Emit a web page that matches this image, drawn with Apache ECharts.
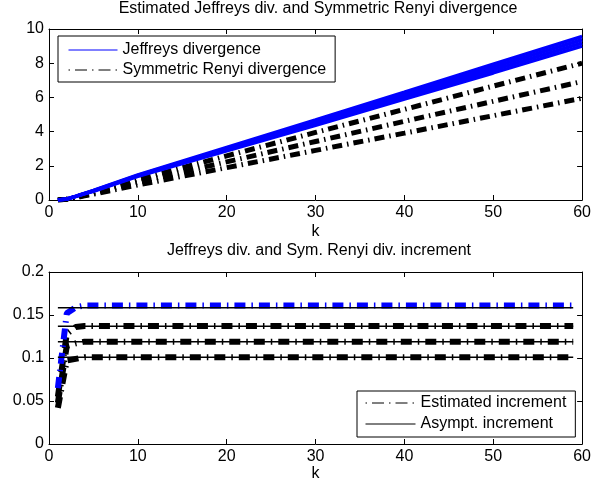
<!DOCTYPE html>
<html><head><meta charset="utf-8">
<script src="https://cdn.jsdelivr.net/npm/echarts@6/dist/echarts.min.js"></script>
<style>html,body{margin:0;padding:0;background:#fff}#c{width:594px;height:491px}</style>
</head><body><div id="c"></div>
<script>
// ---- data ----
const kTop   = [1, 2, 3, 4, 5, 10, 20, 30, 40, 50, 60];
const jeffA  = [0, 0.06, 0.22, 0.39, 0.56, 1.47, 3.08, 4.68, 6.30, 7.95, 9.56];
const jeffB  = [0, 0.06, 0.21, 0.38, 0.54, 1.44, 3.02, 4.57, 6.17, 7.78, 9.37];
const jeffC  = [0, 0.06, 0.21, 0.37, 0.53, 1.41, 2.95, 4.47, 6.03, 7.60, 9.18];
const jeffD  = [0, 0.05, 0.20, 0.36, 0.51, 1.38, 2.88, 4.37, 5.90, 7.43, 9.00];
const renyiA = [0, 0.05, 0.18, 0.32, 0.46, 1.20, 2.58, 3.95, 5.30, 6.66, 8.00];
const renyiB = [0, 0.05, 0.16, 0.28, 0.40, 1.04, 2.23, 3.42, 4.60, 5.77, 6.93];
const renyiC = [0, 0.04, 0.14, 0.24, 0.34, 0.88, 1.89, 2.90, 3.91, 4.93, 5.95];

const kInc  = [1, 2, 3, 4, 59];
const incJ  = [0.065, 0.152, 0.159, 0.161, 0.161];
const incR1 = [0.055, 0.128, 0.136, 0.1372, 0.1372];
const incR2 = [0.048, 0.114, 0.117, 0.119, 0.119];
const incR3 = [0.042, 0.097, 0.099, 0.101, 0.101];
const kAsym = [1, 59];
const asymValues = [0.1585, 0.137, 0.119, 0.101];

const xTicks = [0, 60, 10];          // min, max, interval
const yTopTicks = [0, 10, 2];
const yBotTicks = [0, 0.2, 0.05];

const titleTop = 'Estimated Jeffreys div. and Symmetric Renyi divergence';
const titleBot = 'Jeffreys div. and Sym. Renyi div. increment';
const legTop = ['Jeffreys divergence', 'Symmetric Renyi divergence'];
const legBot = ['Estimated increment', 'Asympt. increment'];

// ---- build ----
const FONT = '"Liberation Sans", Arial, Helvetica, sans-serif';
const FS = 16;
const zip = (xs, ys) => xs.map((x, i) => [x, ys[i]]);

function xAxis(g, pos, labels, nameGap) {
  return {
    type: 'value', gridIndex: g, position: pos,
    min: xTicks[0], max: xTicks[1], interval: xTicks[2],
    axisLine: { show: true, onZero: false, lineStyle: { color: '#000', width: 1 } },
    axisTick: { show: true, inside: true, length: 5, lineStyle: { color: '#000', width: 1 } },
    axisLabel: { show: labels, color: '#000', fontSize: FS, fontFamily: FONT, margin: 5 },
    splitLine: { show: false },
    name: labels ? 'k' : '', nameLocation: 'middle', nameGap: nameGap,
    nameTextStyle: { color: '#000', fontSize: FS, fontFamily: FONT }
  };
}
function yAxis(g, pos, labels, t) {
  return {
    type: 'value', gridIndex: g, position: pos,
    min: t[0], max: t[1], interval: t[2],
    axisLine: { show: true, onZero: false, lineStyle: { color: '#000', width: 1 } },
    axisTick: { show: true, inside: true, length: 5, lineStyle: { color: '#000', width: 1 } },
    axisLabel: { show: labels, color: '#000', fontSize: FS, fontFamily: FONT, margin: 5 },
    splitLine: { show: false }
  };
}
function line(name, xi, yi, xs, ys, color, width, type, z) {
  return {
    type: 'line', name: name, xAxisIndex: xi, yAxisIndex: yi,
    data: zip(xs, ys), symbol: 'none', showSymbol: false, silent: true,
    lineStyle: { color: color, width: width, type: type, cap: 'butt' },
    itemStyle: { color: color }, z: z || 2, animation: false
  };
}

const DD_TOP = [10, 5, 1.5, 5];
const DD_BOT = [11, 6, 1.5, 6];
const DD_LEG = [1.5, 5, 12, 5];
const NOSYM = { opacity: 0, borderWidth: 0 };

const series = [];
[jeffA, jeffB, jeffC, jeffD].forEach(v => series.push(line(legTop[0], 0, 0, kTop, v, '#0000ff', 3.5, 'solid', 3)));
[renyiA, renyiB, renyiC].forEach(v => series.push(line(legTop[1], 0, 0, kTop, v, '#000', 5, DD_TOP, 2)));
[incR1, incR2, incR3].forEach(v => series.push(line(legBot[0], 2, 2, kInc, v, '#000', 6, DD_BOT, 2)));
series.push(line(legBot[0], 2, 2, kInc, incJ, '#0000ff', 6, DD_BOT, 2));
asymValues.forEach(a => series.push(line(legBot[1], 2, 2, kAsym, kAsym.map(() => a), '#000', 1.5, 'solid', 4)));

const option = {
  animation: false,
  backgroundColor: '#fff',
  textStyle: { fontFamily: FONT },
  title: [
    { text: titleTop, left: 318, top: 1, textAlign: 'center', padding: 0,
      textStyle: { color: '#000', fontSize: FS, fontWeight: 'normal', fontFamily: FONT } },
    { text: titleBot, left: 319, top: 243, textAlign: 'center', padding: 0,
      textStyle: { color: '#000', fontSize: FS, fontWeight: 'normal', fontFamily: FONT } }
  ],
  grid: [
    { left: 49, top: 29, width: 534, height: 171, containLabel: false },
    { left: 49, top: 272, width: 534, height: 172, containLabel: false }
  ],
  xAxis: [xAxis(0, 'bottom', true, 24), xAxis(0, 'top', false, 0),
          xAxis(1, 'bottom', true, 18), xAxis(1, 'top', false, 0)],
  yAxis: [yAxis(0, 'left', true, yTopTicks), yAxis(0, 'right', false, yTopTicks),
          yAxis(1, 'left', true, yBotTicks), yAxis(1, 'right', false, yBotTicks)],
  legend: [
    { orient: 'vertical', left: 58, top: 36, itemWidth: 49, itemHeight: 14, itemGap: 4,
      padding: [6, 9, 4, 10], borderColor: '#000', borderWidth: 1, backgroundColor: '#fff',
      selectedMode: false, textStyle: { color: '#000', fontSize: FS, fontFamily: FONT },
      data: [
        { name: legTop[0], itemStyle: NOSYM, lineStyle: { color: '#0000ff', width: 1, type: 'solid' } },
        { name: legTop[1], itemStyle: NOSYM, lineStyle: { color: '#000', width: 1, type: DD_LEG } }
      ] },
    { orient: 'vertical', left: 357, top: 391, itemWidth: 50, itemHeight: 14, itemGap: 5,
      padding: [4, 9, 5, 8], borderColor: '#000', borderWidth: 1, backgroundColor: '#fff',
      selectedMode: false, textStyle: { color: '#000', fontSize: FS, fontFamily: FONT },
      data: [
        { name: legBot[0], itemStyle: NOSYM, lineStyle: { color: '#000', width: 1, type: DD_LEG } },
        { name: legBot[1], itemStyle: NOSYM, lineStyle: { color: '#000', width: 1, type: 'solid' } }
      ] }
  ],
  series: series
};
const chart = echarts.init(document.getElementById('c'), null, { renderer: 'canvas' });
chart.setOption(option);
</script></body></html>
